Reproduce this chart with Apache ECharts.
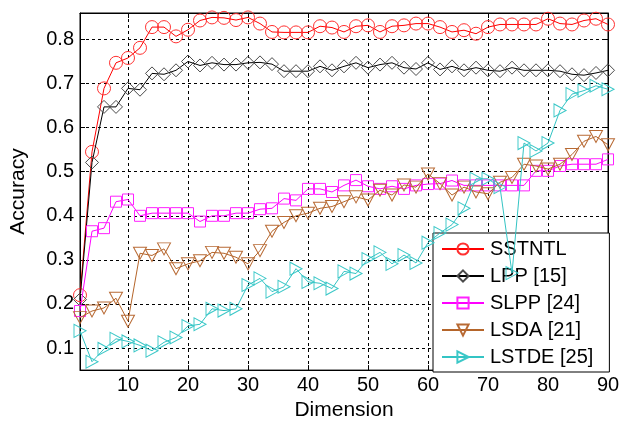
<!DOCTYPE html>
<html>
<head>
<meta charset="utf-8">
<script src="https://cdn.jsdelivr.net/npm/echarts@6/dist/echarts.min.js"></script>
<style>html,body{margin:0;padding:0;background:#fff;}#c{width:625px;height:426px;}</style>
</head>
<body>
<div id="c"></div>
<script>
const dims = [2,4,6,8,10,12,14,16,18,20,22,24,26,28,30,32,34,36,38,40,42,44,46,48,50,52,54,56,58,60,62,64,66,68,70,72,74,76,78,80,82,84,86,88,90];
const xTicks = [10,20,30,40,50,60,70,80,90];
const yTicks = [0.1,0.2,0.3,0.4,0.5,0.6,0.7,0.8];
const seriesNames = ['SSTNTL','LPP [15]','SLPP [24]','LSDA [21]','LSTDE [25]'];
const sstntl = [0.22,0.545,0.689,0.747,0.758,0.781,0.828,0.828,0.807,0.822,0.843,0.850,0.849,0.844,0.850,0.836,0.817,0.816,0.816,0.816,0.830,0.827,0.817,0.830,0.832,0.817,0.830,0.832,0.836,0.836,0.828,0.817,0.821,0.813,0.828,0.834,0.834,0.834,0.834,0.847,0.836,0.834,0.843,0.847,0.834];
const lpp = [0.21,0.521,0.647,0.647,0.689,0.686,0.723,0.721,0.730,0.750,0.741,0.747,0.743,0.743,0.747,0.748,0.744,0.728,0.728,0.728,0.739,0.730,0.739,0.747,0.736,0.743,0.747,0.736,0.733,0.747,0.732,0.739,0.730,0.736,0.730,0.728,0.736,0.730,0.730,0.730,0.728,0.721,0.719,0.724,0.730];
const slpp = [0.184,0.365,0.372,0.432,0.437,0.400,0.406,0.406,0.406,0.406,0.387,0.400,0.400,0.406,0.406,0.415,0.417,0.439,0.435,0.461,0.461,0.454,0.469,0.481,0.467,0.461,0.467,0.461,0.469,0.472,0.473,0.480,0.469,0.469,0.469,0.469,0.469,0.469,0.502,0.502,0.513,0.517,0.517,0.517,0.528];
const lsda = [0.169,0.184,0.191,0.213,0.161,0.315,0.310,0.325,0.280,0.291,0.298,0.317,0.315,0.306,0.291,0.321,0.365,0.385,0.400,0.406,0.417,0.421,0.432,0.443,0.436,0.458,0.447,0.470,0.465,0.495,0.473,0.447,0.465,0.454,0.450,0.476,0.487,0.517,0.513,0.506,0.517,0.539,0.569,0.580,0.561];
const lstde = [0.139,0.069,0.098,0.121,0.115,0.106,0.094,0.113,0.124,0.150,0.154,0.189,0.185,0.189,0.243,0.258,0.228,0.239,0.280,0.250,0.247,0.235,0.274,0.269,0.302,0.317,0.291,0.311,0.293,0.339,0.361,0.380,0.417,0.484,0.484,0.465,0.27,0.565,0.547,0.565,0.639,0.676,0.684,0.695,0.687];

const allValues = [sstntl, lpp, slpp, lsda, lstde];
const lineColors = ['#ff0000','#000000','#ff00ff','#b5652a','#33c4c4'];
const markColors = ['#ff3030','#4a4a4a','#ff20ff','#b86a34','#3cc8c8'];
const symbols = ['circle','diamond','rect','triangle','triangle'];
const symbolSizes = [13,13,11,[13,12],[13,12]];
const symbolRotates = [0,0,0,180,-90];

const chart = echarts.init(document.getElementById('c'), null, {renderer:'canvas'});
const font = 'Liberation Sans, Arial, sans-serif';

const series = seriesNames.map((name, i) => ({
  name: name,
  type: 'line',
  xAxisIndex: 0, yAxisIndex: 0,
  data: dims.map((d, k) => [d, allValues[i][k]]),
  symbol: symbols[i],
  symbolSize: symbolSizes[i],
  symbolRotate: symbolRotates[i],
  showAllSymbol: true,
  animation: false,
  clip: true,
  lineStyle: {color: lineColors[i], width: 1},
  itemStyle: {color: 'rgba(255,255,255,0)', borderColor: markColors[i], borderWidth: 1},
  emphasis: {disabled: true},
  z: 2 + i
}));

const gridLine = {show: true, lineStyle: {color: '#000', type: [3,3], width: 1}};
const option = {
  backgroundColor: '#fff',
  animation: false,
  grid: {left: 73, right: 17, top: 13, bottom: 49, show: true, borderColor: '#000', borderWidth: 1, backgroundColor: 'transparent'},
  legend: {
    orient: 'vertical',
    left: 433, top: 233,
    data: seriesNames,
    itemWidth: 42, itemHeight: 14, itemGap: 7,
    padding: [6, 16, 5, 8],
    backgroundColor: '#fff',
    borderColor: '#000', borderWidth: 1, borderRadius: 0,
    textStyle: {fontFamily: font, fontSize: 20, color: '#000', padding: [0,0,0,1]},
    selectedMode: false
  },
  xAxis: [{
    type: 'value', min: 2, max: 90, position: 'bottom',
    name: 'Dimension', nameLocation: 'middle', nameGap: 28,
    nameTextStyle: {fontFamily: font, fontSize: 21, color: '#000'},
    axisLine: {show: true, onZero: false, lineStyle: {color: '#000', width: 1}},
    axisTick: {show: true, inside: true, length: 5, customValues: xTicks, lineStyle: {color: '#000'}},
    axisLabel: {show: true, customValues: xTicks, margin: 5, fontFamily: font, fontSize: 20, color: '#000'},
    splitLine: gridLine
  },{
    type: 'value', min: 2, max: 90, position: 'top',
    axisLine: {show: true, onZero: false, lineStyle: {color: '#000'}},
    axisTick: {show: true, inside: true, length: 5, customValues: xTicks, lineStyle: {color: '#000'}},
    axisLabel: {show: false}, splitLine: {show: false}
  }],
  yAxis: [{
    type: 'value', min: 0.05, max: 0.86, position: 'left',
    name: 'Accuracy', nameLocation: 'middle', nameGap: 51,
    nameTextStyle: {fontFamily: font, fontSize: 21, color: '#000'},
    axisLine: {show: true, onZero: false, lineStyle: {color: '#000', width: 1}},
    axisTick: {show: true, inside: true, length: 5, customValues: yTicks, lineStyle: {color: '#000'}},
    axisLabel: {show: true, customValues: yTicks, margin: 6, fontFamily: font, fontSize: 20, color: '#000',
      formatter: v => v.toFixed(1)},
    splitLine: gridLine
  },{
    type: 'value', min: 0.05, max: 0.86, position: 'right',
    axisLine: {show: true, onZero: false, lineStyle: {color: '#000'}},
    axisTick: {show: true, inside: true, length: 5, customValues: yTicks, lineStyle: {color: '#000'}},
    axisLabel: {show: false}, splitLine: {show: false}
  }],
  series: series
};
chart.setOption(option);
</script>
</body>
</html>
